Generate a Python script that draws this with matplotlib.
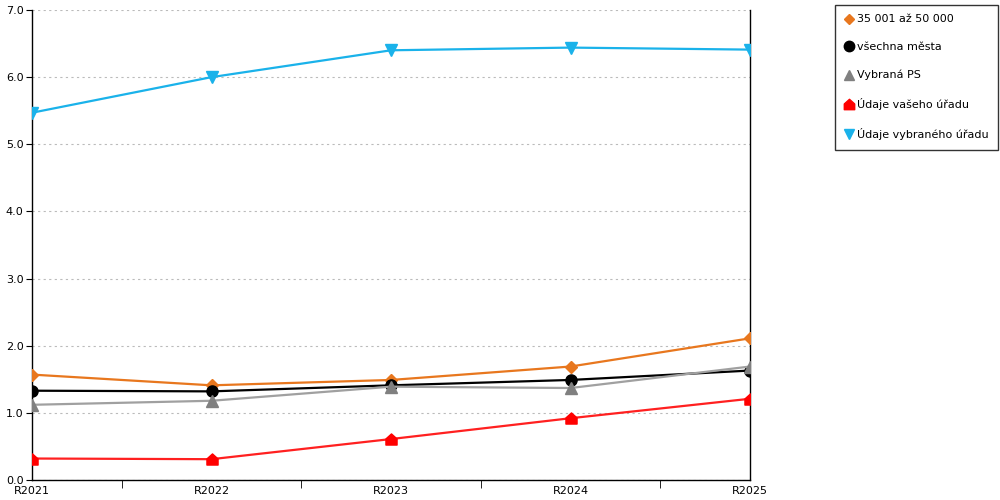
import matplotlib.pyplot as plt
from matplotlib.path import Path
from matplotlib.lines import Line2D

roky = ["R2021", "R2022", "R2023", "R2024", "R2025"]

skupina_35_50 = [1.57, 1.41, 1.49, 1.69, 2.11]
vsechna_mesta = [1.33, 1.32, 1.41, 1.49, 1.63]
vybrana_ps = [1.12, 1.18, 1.39, 1.37, 1.69]
vas_urad = [0.32, 0.31, 0.61, 0.92, 1.21]
vybrany_urad = [5.47, 6.00, 6.40, 6.44, 6.41]

# marker ve tvaru domecku
domek = Path([(-1, -1), (1, -1), (1, 0.1), (0, 1), (-1, 0.1), (-1, -1)],
              [Path.MOVETO, Path.LINETO, Path.LINETO, Path.LINETO, Path.LINETO, Path.CLOSEPOLY])

serie = [
    ("35 001 až 50 000", skupina_35_50, "#E8771E", "#E8771E", "D", 6),
    ("všechna města", vsechna_mesta, "#000000", "#000000", "o", 8),
    ("Vybraná PS", vybrana_ps, "#A0A0A0", "#808080", "^", 8),
    ("Údaje vašeho úřadu", vas_urad, "#FF2020", "#FF0000", domek, 8),
    ("Údaje vybraného úřadu", vybrany_urad, "#1AB2EA", "#1AB2EA", "v", 8),
]

plt.rcParams['font.family'] = ['DejaVu Sans']
fig = plt.figure(figsize=(10, 5), dpi=100)
ax = fig.add_axes([0.032, 0.04, 0.718, 0.94])

x = list(range(len(roky)))
handles = []
for nazev, hodnoty, barva_cary, barva_bodu, znacka, velikost in serie:
    ax.plot(x, hodnoty, color=barva_cary, linewidth=1.6, marker=znacka,
            markersize=velikost, markerfacecolor=barva_bodu, markeredgecolor=barva_bodu,
            zorder=3)
    handles.append(Line2D([], [], linestyle="none", marker=znacka, markersize=velikost - 0.5,
                          markerfacecolor=barva_bodu, markeredgecolor=barva_bodu, label=nazev))

ax.set_xlim(0, 4)
ax.set_ylim(0, 7)
ax.set_xticks(x)
ax.set_xticklabels(roky, fontsize=8)
ax.set_xticks([0.5, 1.5, 2.5, 3.5], minor=True)
ax.tick_params(axis="x", which="major", length=0, pad=4)
ax.tick_params(axis="x", which="minor", length=6, direction="out")
ax.set_yticks([0, 1, 2, 3, 4, 5, 6, 7])
ax.set_yticklabels([f"{v:.1f}" for v in range(8)], fontsize=8)
ax.tick_params(axis="y", length=4, pad=2)
ax.yaxis.grid(True, linestyle=(0, (2, 3)), color="#BBBBBB", linewidth=0.8)
ax.spines["top"].set_visible(False)
for s in ["left", "right", "bottom"]:
    ax.spines[s].set_color("black")
    ax.spines[s].set_linewidth(1)

fig.legend(handles=handles, loc="upper left", bbox_to_anchor=(0.835, 0.99),
           frameon=True, fancybox=False, edgecolor="black", fontsize=8,
           handletextpad=0.35, handlelength=0.8, labelspacing=1.6,
           borderpad=0.85, borderaxespad=0)

fig.savefig("out.png", dpi=100)
